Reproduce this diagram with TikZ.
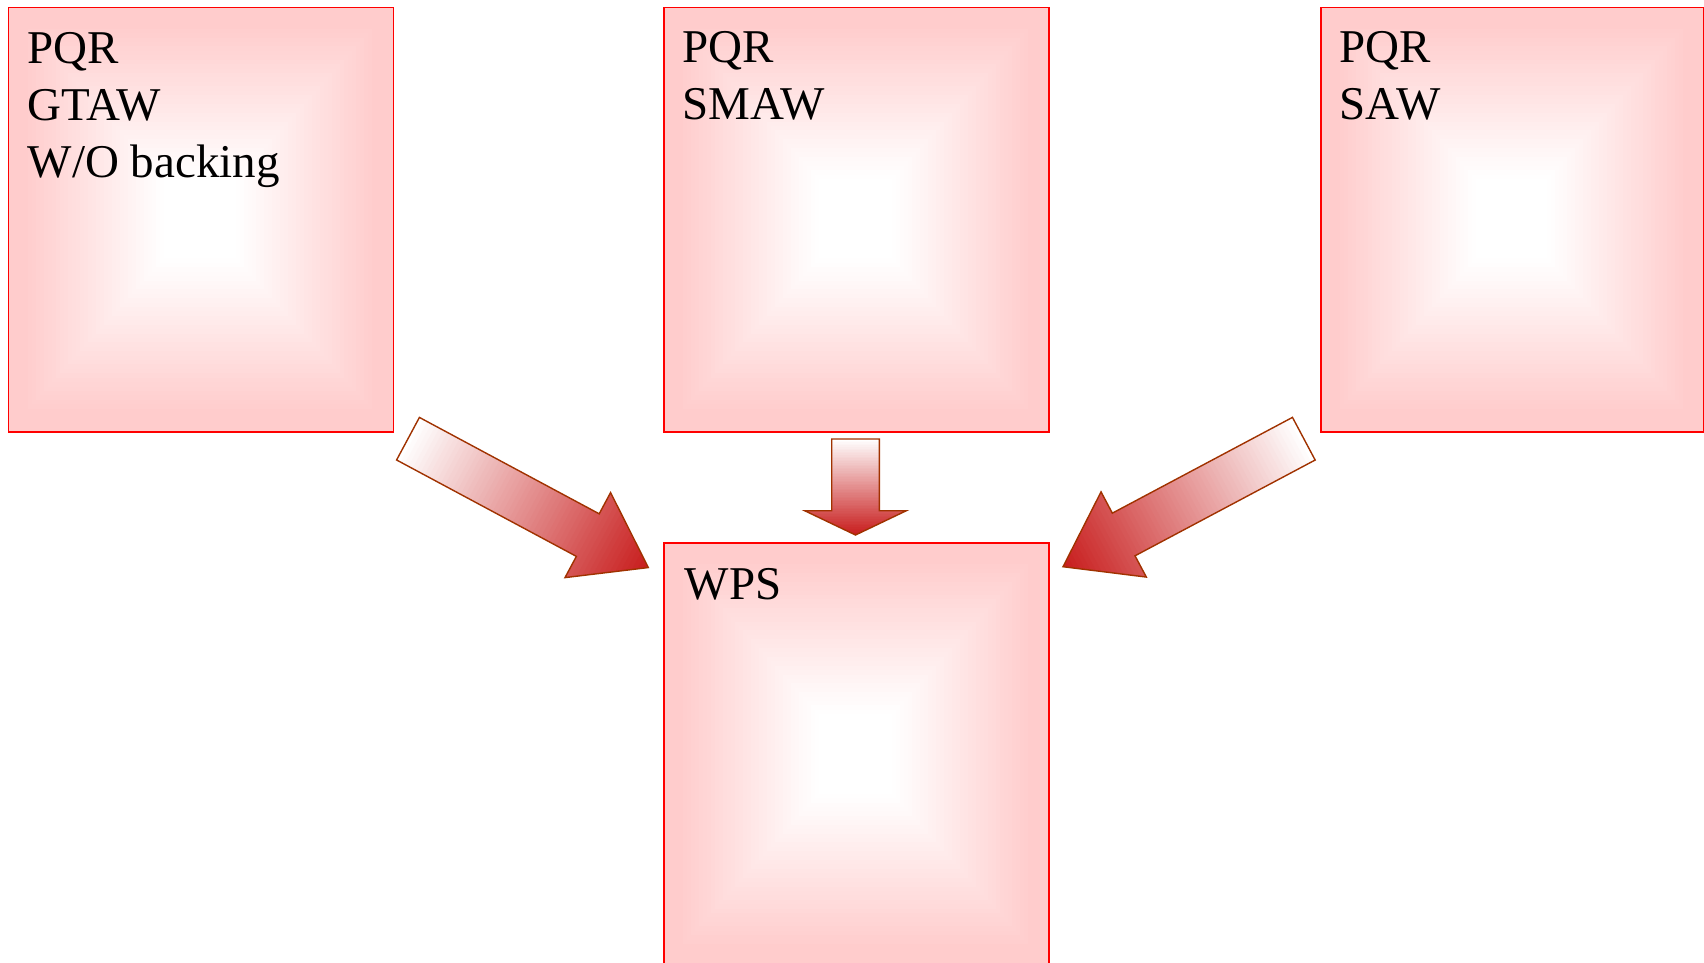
\documentclass[tikz,border=0pt]{standalone}
\usepackage{fontspec}
\setmainfont{Liberation Serif}
\usetikzlibrary{backgrounds}
\definecolor{boxpink}{RGB}{255,204,204}
\definecolor{boxred}{RGB}{255,0,0}
\definecolor{arrowred}{RGB}{200,30,30}
\definecolor{arrowline}{RGB}{160,50,0}
\tikzset{
  pbox/.style={draw=boxred, line width=1.8pt, anchor=north west, inner sep=0pt},
  ptext/.style={anchor=base west, inner sep=0pt, align=left, font=\fontsize{47}{57}\selectfont},
  arrowedge/.style={draw=arrowline, line width=1.4pt, line join=miter}
}
% gradient fill of a box: x1 y1 x2 y2
\newcommand\boxshade[4]{%
  \foreach \i in {0,...,48}{%
    \pgfmathsetmacro\tt{\i/48}%
    \pgfmathsetmacro\pp{max(0,min(100,100*(1-(\tt-0.08)/0.72)))}%
    \fill[boxpink!\pp!white] ({#1+(#3-#1)*\tt/2},{#2+(#4-#2)*\tt/2}) rectangle ({#3-(#3-#1)*\tt/2},{#4-(#4-#2)*\tt/2});
  }}
% block arrow: cx cy angle length headlen shaftw headw
\newcommand\blockarrow[7]{%
  \begin{scope}[shift={(#1,#2)}, rotate=#3]
    \begin{scope}
      \clip (0,{#6/2}) -- ({#4-#5},{#6/2}) -- ({#4-#5},{#7/2}) -- (#4,0) -- ({#4-#5},{-#7/2}) -- ({#4-#5},{-#6/2}) -- (0,{-#6/2}) -- cycle;
      \foreach \i in {0,...,59}{%
        \pgfmathsetmacro\pp{\i*100/59}%
        \fill[arrowred!\pp!white] ({#4*\i/60},{-#7}) rectangle ({#4*(\i+1)/60+1},{#7});
      }
    \end{scope}
    \draw[arrowedge] (0,{#6/2}) -- ({#4-#5},{#6/2}) -- ({#4-#5},{#7/2}) -- (#4,0) -- ({#4-#5},{-#7/2}) -- ({#4-#5},{-#6/2}) -- (0,{-#6/2}) -- cycle;
  \end{scope}}
\begin{document}
\begin{tikzpicture}[x=1pt,y=-1pt]
\useasboundingbox (0,0) rectangle (1704,963);
\clip (0,0) rectangle (1704,963);
% boxes
\node[pbox, minimum width=385pt, minimum height=424pt] (gtaw) at (7.5,6.7) {};
\node[pbox, minimum width=385pt, minimum height=424pt] (smaw) at (663,6.7) {};
\node[pbox, minimum width=383pt, minimum height=424pt] (saw) at (1320,6.7) {};
\node[pbox, minimum width=385pt, minimum height=424pt] (wps) at (663,542) {};
\begin{scope}[on background layer]
  \boxshade{7.5}{6.7}{392.5}{430.7}
  \boxshade{663}{6.7}{1048}{430.7}
  \boxshade{1320}{6.7}{1703}{430.7}
  \boxshade{663}{542}{1048}{966}
\end{scope}
% texts (base anchor = baseline of the last line)
\node[ptext] (t1) at (27.5,177) {PQR\\GTAW\\W/O backing};
\node[ptext] (t2) at (682.5,120) {PQR\\SMAW};
\node[ptext] (t3) at (1339.5,120) {PQR\\SAW};
\node[ptext] (t4) at (684.5,599) {WPS};
% arrows
\blockarrow{408}{438.7}{-28.2}{272.7}{68.7}{48.3}{96.5}
\blockarrow{855.5}{439}{-90}{96}{24.3}{47.6}{101.7}
\blockarrow{1303.8}{438.7}{-152}{272.7}{68.7}{48.3}{96.5}
\end{tikzpicture}
\end{document}
